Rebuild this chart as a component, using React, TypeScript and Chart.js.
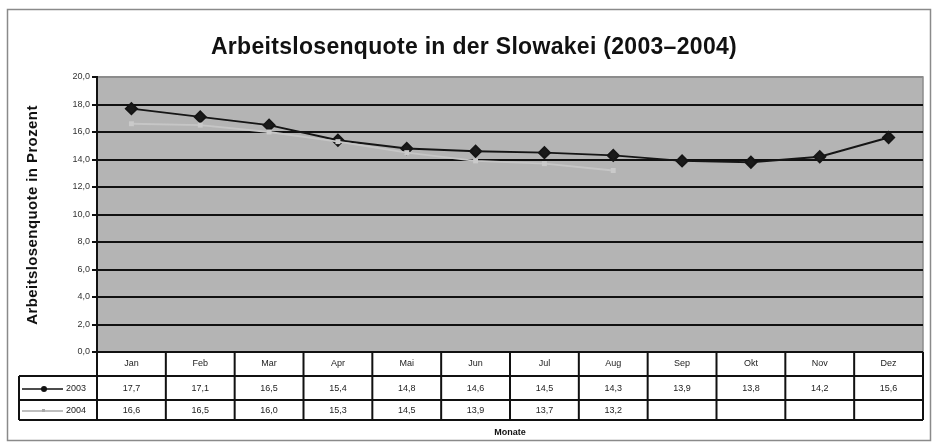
import React, { useEffect, useRef } from "react";
import { Chart, registerables } from "chart.js";

Chart.register(...registerables);

const months = ["Jan", "Feb", "Mar", "Apr", "Mai", "Jun", "Jul", "Aug", "Sep", "Okt", "Nov", "Dez"];
const values2003 = [17.7, 17.1, 16.5, 15.4, 14.8, 14.6, 14.5, 14.3, 13.9, 13.8, 14.2, 15.6];
const values2004: (number | null)[] = [16.6, 16.5, 16.0, 15.3, 14.5, 13.9, 13.7, 13.2, null, null, null, null];
const seriesLabels = ["2003", "2004"];
const titleText = "Arbeitslosenquote in der Slowakei (2003–2004)";
const yTitle = "Arbeitslosenquote in Prozent";
const xTitle = "Monate";

const FONT = "'Liberation Sans', Arial, sans-serif";
const fmt = (v: number | null) => (v == null ? "" : v.toFixed(1).replace(".", ","));

const decorPlugin = {
  id: "decor",
  beforeDraw(chart: any) {
    const { ctx, chartArea: a } = chart;
    ctx.save();
    ctx.fillStyle = "#ffffff";
    ctx.fillRect(0, 0, chart.width, chart.height);
    ctx.strokeStyle = "#8a8a8a";
    ctx.lineWidth = 1.5;
    ctx.strokeRect(7.5, 9.5, 923, 431);
    ctx.fillStyle = "#b4b4b4";
    ctx.fillRect(a.left, a.top, a.right - a.left, a.bottom - a.top);
    ctx.strokeStyle = "#8c8c8c";
    ctx.lineWidth = 1.5;
    ctx.strokeRect(a.left, a.top, a.right - a.left, a.bottom - a.top);
    ctx.restore();
  },
  afterDraw(chart: any) {
    const { ctx, chartArea: a } = chart;
    const xs = chart.scales.x;
    const colW = (a.right - a.left) / months.length;
    ctx.save();
    // title
    ctx.fillStyle = "#111";
    ctx.font = `bold 23px ${FONT}`;
    (ctx as any).letterSpacing = "0.3px";
    ctx.textAlign = "center";
    ctx.textBaseline = "alphabetic";
    ctx.fillText(titleText, 474, 54);
    // y title
    ctx.save();
    ctx.translate(33, 215);
    ctx.rotate(-Math.PI / 2);
    ctx.font = `bold 15px ${FONT}`;
    (ctx as any).letterSpacing = "0.4px";
    ctx.textBaseline = "middle";
    ctx.fillText(yTitle, 0, 0);
    ctx.restore();
    (ctx as any).letterSpacing = "0px";
    // x title
    ctx.font = `bold 9px ${FONT}`;
    ctx.textBaseline = "middle";
    ctx.fillText(xTitle, (a.left + a.right) / 2, 433);

    // table
    const r0 = a.bottom, r1 = 376, r2 = 400, r3 = 420;
    const legL = 19;
    ctx.strokeStyle = "#111";
    ctx.lineWidth = 2;
    ctx.beginPath();
    ctx.moveTo(a.left, r0); ctx.lineTo(a.right, r0);
    ctx.moveTo(legL, r1); ctx.lineTo(a.right, r1);
    ctx.moveTo(legL, r2); ctx.lineTo(a.right, r2);
    ctx.moveTo(legL, r3); ctx.lineTo(a.right, r3);
    ctx.moveTo(legL, r1); ctx.lineTo(legL, r3);
    for (let i = 0; i <= months.length; i++) {
      const x = i < months.length ? xs.getPixelForValue(i) - colW / 2 : xs.getPixelForValue(i - 1) + colW / 2;
      ctx.moveTo(x, r0); ctx.lineTo(x, r3);
    }
    ctx.stroke();

    ctx.fillStyle = "#222";
    ctx.font = `9px ${FONT}`;
    ctx.textAlign = "center";
    ctx.textBaseline = "middle";
    months.forEach((m, i) => {
      const x = xs.getPixelForValue(i);
      ctx.fillText(m, x, (r0 + r1) / 2);
      ctx.fillText(fmt(values2003[i]), x, (r1 + r2) / 2 + 1);
      ctx.fillText(fmt(values2004[i]), x, (r2 + r3) / 2 + 1);
    });
    const y1 = (r1 + r2) / 2 + 1, y2 = (r2 + r3) / 2 + 1;
    ctx.lineWidth = 1.5;
    ctx.strokeStyle = "#111";
    ctx.beginPath(); ctx.moveTo(22, y1); ctx.lineTo(63, y1); ctx.stroke();
    ctx.fillStyle = "#111";
    ctx.beginPath(); ctx.arc(44, y1, 3, 0, Math.PI * 2); ctx.fill();
    ctx.strokeStyle = "#a8a8a8";
    ctx.beginPath(); ctx.moveTo(22, y2); ctx.lineTo(63, y2); ctx.stroke();
    ctx.fillStyle = "#a8a8a8";
    ctx.fillRect(42, y2 - 2, 3, 3);
    ctx.fillStyle = "#222";
    ctx.font = `9px ${FONT}`;
    ctx.textAlign = "left";
    ctx.fillText(seriesLabels[0], 66, y1);
    ctx.fillText(seriesLabels[1], 66, y2);
    ctx.restore();
  },
};

export default function App() {
  const ref = useRef<HTMLCanvasElement>(null);
  useEffect(() => {
    document.body.style.margin = "0";
    const chart = new Chart(ref.current!, {
      type: "line",
      data: {
        labels: months,
        datasets: [
          {
            label: seriesLabels[1],
            data: values2004,
            borderColor: "#c6c6c6",
            backgroundColor: "#c8c8c8",
            borderWidth: 2,
            pointStyle: "rect",
            pointRadius: 3.5,
            pointBorderWidth: 0,
            pointBackgroundColor: "#cacaca",
            tension: 0,
            spanGaps: false,
          },
          {
            label: seriesLabels[0],
            data: values2003,
            borderColor: "#151515",
            backgroundColor: "#151515",
            borderWidth: 2,
            pointStyle: "rectRot",
            pointRadius: 5.5,
            pointBorderColor: "#151515",
            pointBackgroundColor: "#1a1a1a",
            tension: 0,
          },
        ],
      },
      options: {
        animation: false,
        responsive: false,
        layout: { padding: { left: 0, top: 77, right: 15, bottom: 93 } },
        plugins: { legend: { display: false }, title: { display: false }, tooltip: { enabled: false } },
        scales: {
          x: { display: false, offset: true },
          y: {
            min: 0,
            max: 20,
            ticks: {
              stepSize: 2,
              callback: (v: any) => fmt(Number(v)),
              font: { size: 9, family: FONT },
              color: "#333",
              padding: 2,
            },
            grid: {
              color: (c: any) => (c.tick && c.tick.value === 20 ? "#8c8c8c" : "#111"),
              tickColor: "#111",
              lineWidth: 2,
              tickLength: 5,
            },
            border: { display: true, color: "#111", width: 2 },
            afterFit: (s: any) => { s.width = 97; },
          },
        },
      },
      plugins: [decorPlugin],
    });
    return () => chart.destroy();
  }, []);
  return <canvas ref={ref} width={938} height={445} style={{ display: "block" }} />;
}
